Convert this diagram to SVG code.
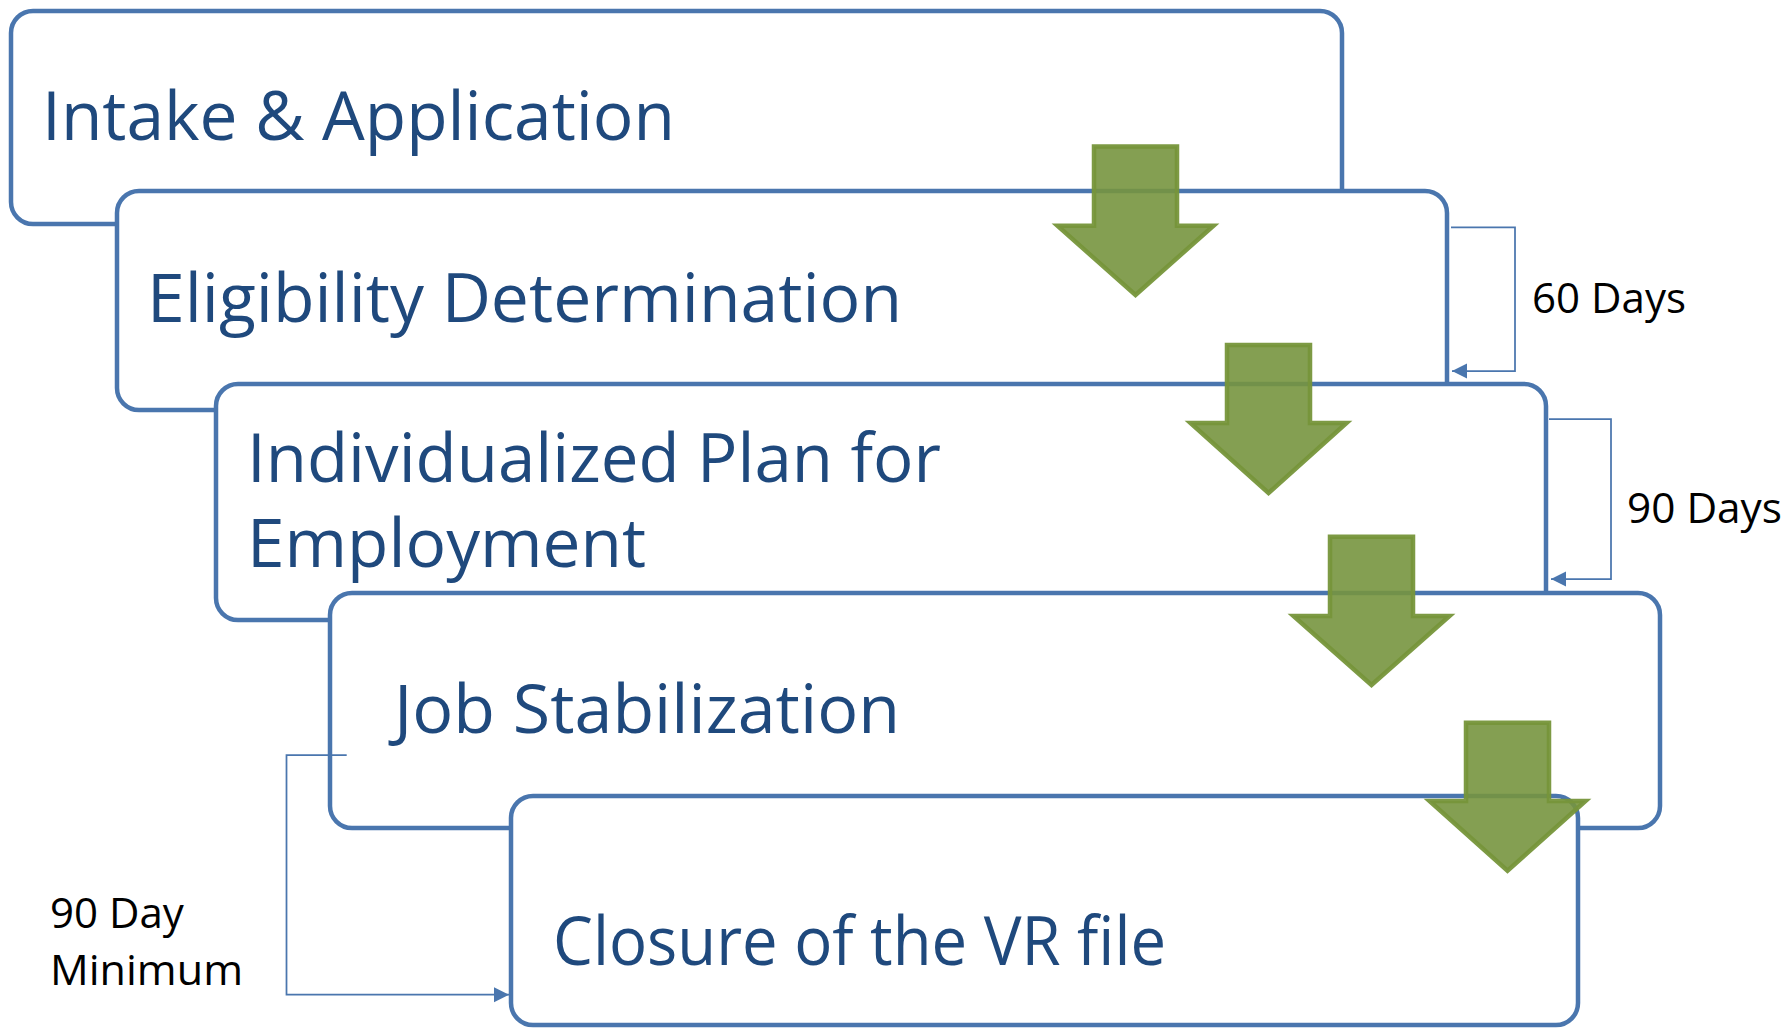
<svg xmlns="http://www.w3.org/2000/svg" width="1787" height="1028" viewBox="0 0 1787 1028">
  <style>
    .box { fill: #ffffff; stroke: #4A76AE; stroke-width: 4.5; }
    .step { font-family: "Open Sans", "Noto Sans", "DejaVu Sans", sans-serif; font-size: 67px; fill: #1F497D; }
    .note { font-family: "Open Sans", "Noto Sans", "DejaVu Sans", sans-serif; font-size: 42px; fill: #000000; }
    .flow { fill: #77953F; fill-opacity: 0.9; stroke: #76953A; stroke-opacity: 0.95; stroke-width: 4.5; }
    .bracket { fill: none; stroke: #4A76AE; stroke-width: 1.75; }
  </style>
  <defs>
    <marker id="tip" markerUnits="userSpaceOnUse" markerWidth="16" markerHeight="16" refX="15" refY="7.5" orient="auto">
      <path d="M0,0 L15,7.5 L0,15 z" fill="#4A76AE"/>
    </marker>
  </defs>

  <!-- process steps, stacked from top-left to bottom-right -->
  <g id="intake">
    <rect class="box" x="11" y="11" width="1331" height="213" rx="22"/>
    <text class="step" x="42" y="139.5" textLength="633" lengthAdjust="spacingAndGlyphs">Intake &amp; Application</text>
  </g>
  <g id="eligibility">
    <rect class="box" x="117" y="191" width="1330" height="219" rx="22"/>
    <text class="step" x="147" y="322.3" textLength="755" lengthAdjust="spacingAndGlyphs">Eligibility Determination</text>
  </g>
  <g id="plan">
    <rect class="box" x="216" y="384" width="1330" height="236" rx="22"/>
    <text class="step" x="247" y="481.7" textLength="694" lengthAdjust="spacingAndGlyphs">Individualized Plan for</text>
    <text class="step" x="247" y="566.7" textLength="399" lengthAdjust="spacingAndGlyphs">Employment</text>
  </g>
  <g id="job-stabilization">
    <rect class="box" x="330" y="593" width="1330" height="235" rx="22"/>
    <text class="step" x="394" y="733.3" textLength="506" lengthAdjust="spacingAndGlyphs">Job Stabilization</text>
  </g>
  <g id="closure">
    <rect class="box" x="511" y="796" width="1067" height="229" rx="22"/>
    <text class="step" x="553" y="965" textLength="613" lengthAdjust="spacingAndGlyphs">Closure of the VR file</text>
  </g>

  <!-- connectors: step-to-step flow arrows and timing brackets -->
  <g id="connectors">
    <polygon class="flow" points="1094,146.5 1177,146.5 1177,225.7 1213.5,225.7 1135.5,295 1057.5,225.7 1094,225.7"/>
    <polygon class="flow" points="1227,345 1310,345 1310,423 1346.5,423 1268.5,493 1190.5,423 1227,423"/>
    <polygon class="flow" points="1330,536.7 1413,536.7 1413,616 1449.5,616 1371.5,685 1293.5,616 1330,616"/>
    <polygon class="flow" points="1466,722.7 1549,722.7 1549,801 1585.5,801 1507.5,870.7 1429.5,801 1466,801"/>

    <polyline class="bracket" points="1451,227.3 1515,227.3 1515,371 1452,371" marker-end="url(#tip)"/>
    <text class="note" x="1532" y="313.3" textLength="154" lengthAdjust="spacingAndGlyphs">60 Days</text>

    <polyline class="bracket" points="1549,419 1611,419 1611,579 1551,579" marker-end="url(#tip)"/>
    <text class="note" x="1627" y="522.7" textLength="155" lengthAdjust="spacingAndGlyphs">90 Days</text>

    <polyline class="bracket" points="346.7,755 286.5,755 286.5,994.7 509,994.7" marker-end="url(#tip)"/>
    <text class="note" x="50" y="928.3">90 Day</text>
    <text class="note" x="50" y="985" textLength="193" lengthAdjust="spacingAndGlyphs">Minimum</text>
  </g>
</svg>
